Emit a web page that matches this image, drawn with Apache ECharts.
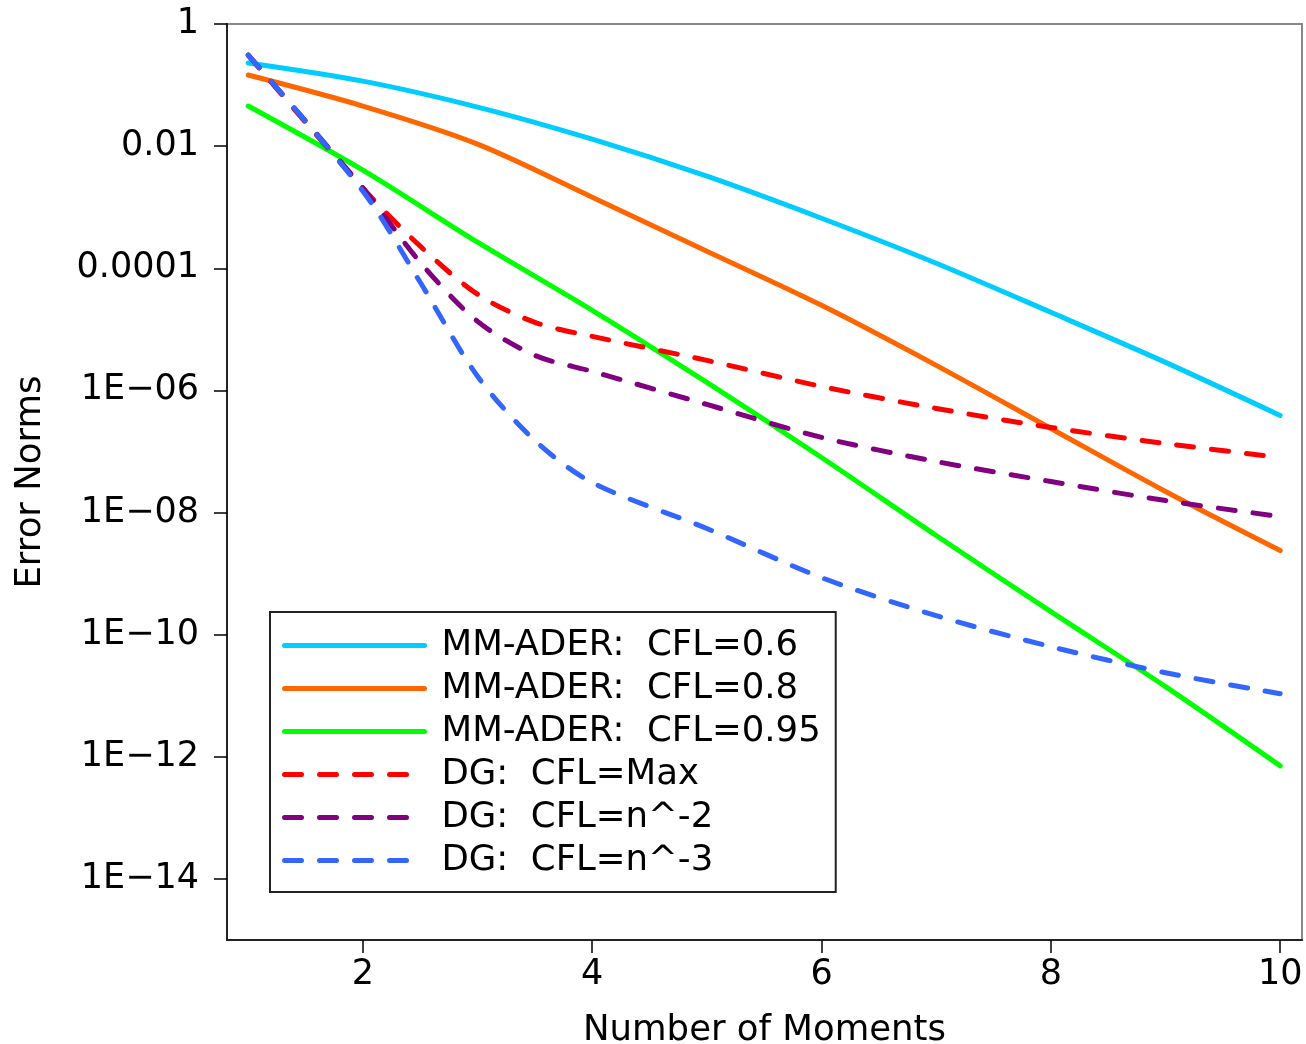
<!DOCTYPE html>
<html>
<head>
<meta charset="utf-8">
<script src="https://cdn.jsdelivr.net/npm/echarts@6/dist/echarts.min.js"></script>
<style>
  html, body { margin: 0; padding: 0; background: #fff; }
  #chart { width: 1306px; height: 1044px; }
</style>
</head>
<body>
<div id="chart"></div>
<script>
// ---- data ----
const momentsX = [1, 2, 3, 4, 5, 6, 7, 8, 9, 10];
const dgX = [1, 2, 2.5, 3, 3.5, 4, 5, 6, 7, 8, 9, 10];

const mmAder06 = [0.23, 0.116, 0.0436, 0.0130, 0.00322, 6.6e-4, 1.21e-4, 1.90e-5, 2.88e-6, 3.89e-7];
const mmAder08 = [0.146, 0.0453, 0.0108, 1.46e-3, 1.90e-4, 2.47e-5, 2.57e-6, 2.38e-7, 2.21e-8, 2.38e-9];
const mmAder095 = [0.0453, 4.04e-3, 2.67e-4, 2.05e-5, 1.35e-6, 7.97e-8, 4.20e-9, 2.38e-10, 1.41e-11, 7.11e-13];

const dgMax = [0.31, 2.05e-3, 2.30e-4, 3.75e-5, 1.30e-5, 7.67e-6, 3.10e-6, 1.16e-6, 5.07e-7, 2.47e-7, 1.35e-7, 7.97e-8];
const dgN2 = [0.31, 2.05e-3, 1.25e-4, 1.35e-5, 3.75e-6, 2.05e-6, 5.89e-7, 1.70e-7, 6.85e-8, 3.22e-8, 1.57e-8, 8.60e-9];
const dgN3 = [0.31, 1.83e-3, 5.9e-5, 1.70e-6, 1.51e-7, 3.10e-8, 5.47e-9, 8.60e-10, 2.05e-10, 6.36e-11, 2.38e-11, 1.08e-11];

const seriesNames = [
  'MM-ADER:  CFL=0.6',
  'MM-ADER:  CFL=0.8',
  'MM-ADER:  CFL=0.95',
  'DG:  CFL=Max',
  'DG:  CFL=n^-2',
  'DG:  CFL=n^-3'
];
const seriesColors = ['#00CCFF', '#FF6600', '#00FF00', '#FF0000', '#800080', '#3366FF'];

const xTickValues = [2, 4, 6, 8, 10];
const yTickValues = [1, 1e-2, 1e-4, 1e-6, 1e-8, 1e-10, 1e-12, 1e-14];
const yTickLabels = ['1', '0.01', '0.0001', '1E\u221206', '1E\u221208', '1E\u221210', '1E\u221212', '1E\u221214'];

const xAxisTitle = 'Number of Moments';
const yAxisTitle = 'Error Norms';

// ---- build chart ----
const FONT = 'DejaVu Sans';
const pair = (xs, ys) => ys.map((y, i) => [xs[i], y]);

const seriesData = [
  pair(momentsX, mmAder06),
  pair(momentsX, mmAder08),
  pair(momentsX, mmAder095),
  pair(dgX, dgMax),
  pair(dgX, dgN2),
  pair(dgX, dgN3)
];

const series = seriesData.map((d, i) => ({
  name: seriesNames[i],
  type: 'line',
  data: d,
  symbol: 'none',
  showSymbol: false,
  smooth: 0.3,
  z: 2 + i,
  lineStyle: {
    color: seriesColors[i],
    width: 5,
    type: i >= 3 ? [17, 18] : 'solid',
    cap: 'round',
    join: 'round'
  },
  itemStyle: { color: seriesColors[i] },
  emphasis: { disabled: true }
}));

const chart = echarts.init(document.getElementById('chart'), null, { renderer: 'canvas' });

chart.setOption({
  animation: false,
  backgroundColor: '#ffffff',
  textStyle: { fontFamily: FONT },
  grid: {
    left: 227, right: 4, top: 24, bottom: 104,
    outerBoundsMode: 'none',
    containLabel: false,
    show: true, borderColor: '#888888', borderWidth: 2, backgroundColor: 'transparent'
  },
  xAxis: {
    type: 'value',
    min: 0.815,
    max: 10.19,
    name: xAxisTitle,
    nameLocation: 'middle',
    nameGap: 73,
    nameTextStyle: { fontFamily: FONT, fontSize: 35.5, color: '#000' },
    axisLine: { show: true, onZero: false, lineStyle: { color: '#222', width: 2 } },
    axisTick: { show: true, length: 13, inside: false, customValues: xTickValues, lineStyle: { color: '#000', width: 1.5 } },
    axisLabel: { customValues: xTickValues, margin: 17, fontFamily: FONT, fontSize: 35, color: '#000' },
    splitLine: { show: false }
  },
  yAxis: {
    type: 'log',
    logBase: 10,
    min: 1e-15,
    max: 1,
    name: yAxisTitle,
    nameLocation: 'middle',
    nameGap: 178,
    nameRotate: 90,
    nameTextStyle: { fontFamily: FONT, fontSize: 35.5, color: '#000' },
    axisLine: { show: true, lineStyle: { color: '#222', width: 2 } },
    axisTick: { show: true, length: 13, inside: false, customValues: yTickValues, lineStyle: { color: '#000', width: 1.5 } },
    axisLabel: {
      customValues: yTickValues,
      margin: 28,
      fontFamily: FONT,
      fontSize: 35,
      color: '#000',
      formatter: function (v) {
        const e = Math.round(Math.log10(v));
        const idx = yTickValues.findIndex(t => Math.round(Math.log10(t)) === e);
        return idx >= 0 ? yTickLabels[idx] : '';
      }
    },
    splitLine: { show: false }
  },
  legend: {
    show: true,
    orient: 'vertical',
    left: 270,
    top: 612,
    data: seriesNames,
    itemWidth: 140,
    itemHeight: 2,
    itemGap: 0,
    padding: [12, 15, 10, 12],
    borderColor: '#222',
    borderWidth: 2,
    backgroundColor: '#fff',
    selectedMode: false,
    lineStyle: { width: 5, cap: 'round' },
    textStyle: { fontFamily: FONT, fontSize: 35.5, color: '#000', lineHeight: 43, padding: [0, 0, 0, 12] }
  },
  series: series
});
</script>
</body>
</html>
